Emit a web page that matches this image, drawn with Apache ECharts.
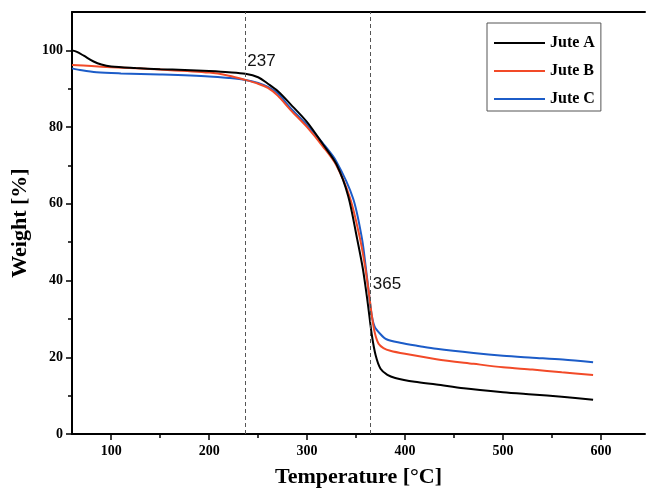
<!DOCTYPE html>
<html>
<head>
<meta charset="utf-8">
<script src="https://cdn.jsdelivr.net/npm/echarts@6/dist/echarts.min.js"></script>
<style>
  html, body { margin: 0; padding: 0; background: #fff; }
  #chart { width: 646px; height: 493px; }
</style>
</head>
<body>
<div id="chart"></div>
<script>
// TGA curves, [temperature °C, weight %]
const juteA = [[60,100],[65,99.6],[72,98.6],[82,97.1],[90,96.3],[100,95.8],[125,95.4],[150,95.1],[175,94.9],[200,94.6],[220,94.3],[237,93.9],[250,93],[260,91.3],[270,89.4],[283,86],[300,81.3],[316,75.6],[330,70.3],[342,62],[351,51],[357,43],[362,34],[366,26],[370,20.5],[375,17],[382,15.4],[390,14.6],[410,13.6],[432,12.9],[460,11.9],[500,10.9],[530,10.3],[560,9.7],[592,8.9]];
const juteB = [[60,96.2],[80,95.9],[100,95.6],[150,95.0],[200,94.2],[220,93.4],[237,92.3],[250,91.3],[260,90.2],[270,88.2],[283,84.5],[300,80],[316,75],[330,70],[344,61.4],[354,51],[359,44],[363,37],[366,31],[369,26.5],[373,23.5],[378,22.4],[385,21.7],[400,20.9],[432,19.5],[470,18.3],[500,17.4],[530,16.8],[560,16.1],[592,15.4]];
const juteC = [[60,95.3],[70,94.8],[85,94.3],[110,94.0],[150,93.7],[200,93.2],[220,92.8],[237,92.3],[250,91.5],[260,90.5],[270,88.8],[283,85],[300,80.5],[316,75.8],[330,71],[347,61.4],[356,51],[360,43.3],[363,37],[366,31],[369,28],[375,26],[381,24.7],[395,23.8],[415,22.9],[432,22.2],[470,21.1],[500,20.4],[530,19.9],[561,19.4],[592,18.7]];

const names = ['Jute A', 'Jute B', 'Jute C'];
const colors = ['#000000', '#f24a28', '#1c5cc8'];
const markTemps = [237, 365];
const markLabelY = [97.2, 39.1];

const xMajor = [100, 200, 300, 400, 500, 600];
const xMinor = [150, 250, 350, 450, 550];
const yMajor = [0, 20, 40, 60, 80, 100];
const yMinor = [10, 30, 50, 70, 90];

const xMin = 60, xMax = 645, yMin = 0, yMax = 110;
const tickFont = { fontFamily: 'Liberation Serif', fontWeight: 'bold', fontSize: 14, color: '#000' };
const axisLineStyle = { color: '#000', width: 2 };

const chart = echarts.init(document.getElementById('chart'));

const series = [juteA, juteB, juteC].map((d, i) => ({
  name: names[i],
  type: 'line',
  data: d,
  xAxisIndex: 0,
  yAxisIndex: 0,
  symbol: 'none',
  smooth: 0.3,
  lineStyle: { color: colors[i], width: 2 },
  itemStyle: { color: colors[i] },
  z: 3 - i
}));

// dashed guides + their labels
series[0].markLine = {
  silent: true,
  symbol: 'none',
  label: { show: false },
  lineStyle: { color: '#555', type: [4, 3], width: 1 },
  data: markTemps.map(t => ({ xAxis: t }))
};
series[0].markPoint = {
  silent: true,
  symbol: 'circle',
  symbolSize: 0,
  label: {
    show: true,
    position: 'right',
    distance: 2,
    formatter: p => p.name,
    fontFamily: 'Liberation Sans',
    fontSize: 17,
    color: '#111'
  },
  data: markTemps.map((t, i) => ({ name: String(t), coord: [t, markLabelY[i]] }))
};

chart.setOption({
  backgroundColor: '#fff',
  animation: false,
  grid: { left: 72, right: 1, top: 12, bottom: 56 },
  legend: {
    orient: 'vertical',
    left: 487,
    top: 23,
    padding: [12, 6, 4, 7],
    icon: 'rect',
    itemWidth: 51,
    itemHeight: 2,
    itemGap: 12,
    borderColor: '#555',
    borderWidth: 1,
    backgroundColor: '#fff',
    textStyle: { fontFamily: 'Liberation Serif', fontWeight: 'bold', fontSize: 16, color: '#000' },
    data: names
  },
  xAxis: [
    {
      type: 'value', min: xMin, max: xMax, position: 'bottom',
      name: 'Temperature [°C]', nameLocation: 'middle', nameGap: 32,
      nameTextStyle: { fontFamily: 'Liberation Serif', fontWeight: 'bold', fontSize: 22, color: '#000' },
      axisLine: { show: true, onZero: false, lineStyle: axisLineStyle },
      axisTick: { show: true, inside: false, length: 6, lineStyle: { color: '#000', width: 1.5 }, customValues: xMajor },
      axisLabel: Object.assign({ margin: 10, customValues: xMajor }, tickFont),
      splitLine: { show: false }
    },
    {
      type: 'value', min: xMin, max: xMax, position: 'bottom',
      axisLine: { show: false },
      axisTick: { show: true, inside: false, length: 4, lineStyle: { color: '#000', width: 1.5 }, customValues: xMinor },
      axisLabel: { show: false },
      splitLine: { show: false }
    },
    {
      type: 'value', min: xMin, max: xMax, position: 'top',
      axisLine: { show: true, onZero: false, lineStyle: axisLineStyle },
      axisTick: { show: false },
      axisLabel: { show: false },
      splitLine: { show: false }
    }
  ],
  yAxis: [
    {
      type: 'value', min: yMin, max: yMax, position: 'left',
      name: 'Weight [%]', nameLocation: 'middle', nameGap: 37,
      nameTextStyle: { fontFamily: 'Liberation Serif', fontWeight: 'bold', fontSize: 22, color: '#000' },
      axisLine: { show: true, onZero: false, lineStyle: axisLineStyle },
      axisTick: { show: true, inside: false, length: 6, lineStyle: { color: '#000', width: 1.5 }, customValues: yMajor },
      axisLabel: Object.assign({ margin: 9, customValues: yMajor }, tickFont),
      splitLine: { show: false }
    },
    {
      type: 'value', min: yMin, max: yMax, position: 'left',
      axisLine: { show: false },
      axisTick: { show: true, inside: false, length: 4, lineStyle: { color: '#000', width: 1.5 }, customValues: yMinor },
      axisLabel: { show: false },
      splitLine: { show: false }
    }
  ],
  series: series
});
</script>
</body>
</html>
